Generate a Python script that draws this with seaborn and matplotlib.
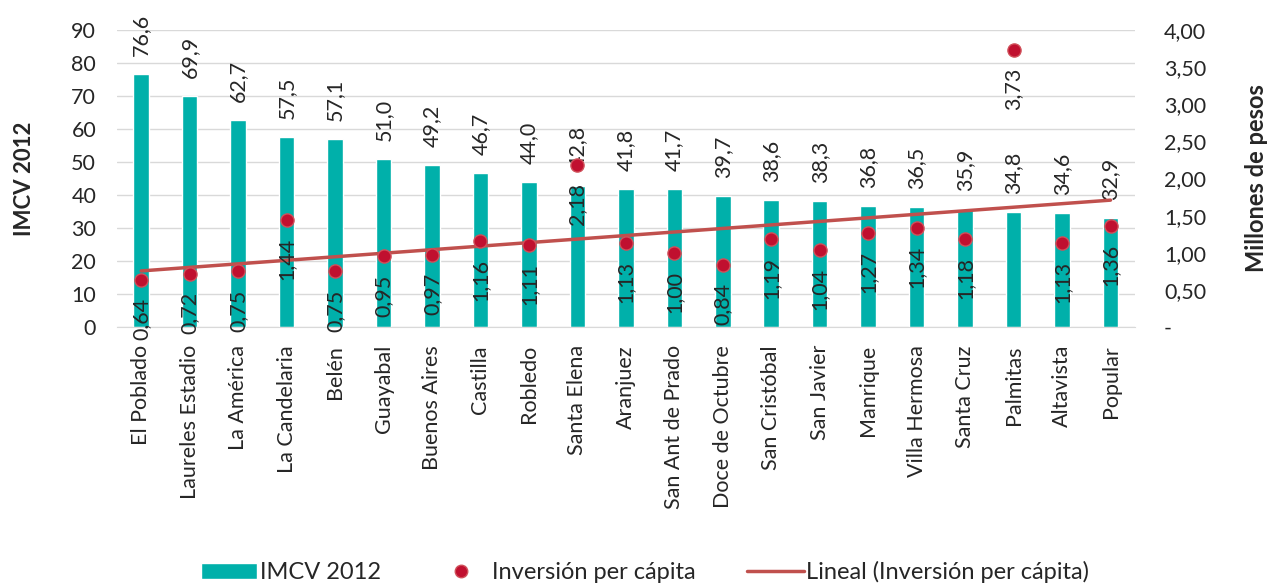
"""
IMCV 2012 vs inversión per cápita por comuna/corregimiento
"""

import numpy as np
import pandas as pd
import matplotlib
matplotlib.use('Agg')
import matplotlib.pyplot as plt
import seaborn as sns
from matplotlib.lines import Line2D
from matplotlib.patches import Patch

# --- Data ---
comunas = ['El Poblado', 'Laureles Estadio', 'La América', 'La Candelaria', 'Belén',
           'Guayabal', 'Buenos Aires', 'Castilla', 'Robledo', 'Santa Elena',
           'Aranjuez', 'San Ant de Prado', 'Doce de Octubre', 'San Cristóbal',
           'San Javier', 'Manrique', 'Villa Hermosa', 'Santa Cruz', 'Palmitas',
           'Altavista', 'Popular']
imcv = [76.6, 69.9, 62.7, 57.5, 57.1, 51.0, 49.2, 46.7, 44.0, 42.8, 41.8,
        41.7, 39.7, 38.6, 38.3, 36.8, 36.5, 35.9, 34.8, 34.6, 32.9]
inversion = [0.64, 0.72, 0.75, 1.44, 0.75, 0.95, 0.97, 1.16, 1.11, 2.18, 1.13,
             1.00, 0.84, 1.19, 1.04, 1.27, 1.34, 1.18, 3.73, 1.13, 1.36]

TEAL = '#00B0AA'
DOT = '#C0102F'
LINE = '#C0504D'
FS = 15.5

df = pd.DataFrame({'comuna': comunas, 'imcv': imcv, 'inv': inversion})
df['pos'] = np.arange(len(df))

# linear trendline (like Excel's "Lineal")
coef = np.polyfit(df['pos'] + 1, df['inv'], 1)
df['trend'] = np.polyval(coef, df['pos'] + 1)

sns.set_style('white')
plt.rcParams['font.family'] = ['Lato', 'DejaVu Sans']

fig = plt.figure(figsize=(12.77, 5.84), dpi=100)
ax = fig.add_axes([0.0916, 0.44, 0.797, 0.5086])

sns.barplot(data=df, x='comuna', y='imcv', color=TEAL, width=0.32,
            saturation=1, ax=ax)
ax.set_ylim(0, 90)
ax.set_xlim(-0.5, len(df) - 0.5)
ax.set_yticks(range(0, 91, 10))
ax.grid(axis='y', color='#D9D9D9', linewidth=1)
ax.set_axisbelow(True)
for s in ['left', 'right', 'top']:
    ax.spines[s].set_visible(False)
ax.spines['bottom'].set_color('#D9D9D9')
ax.tick_params(axis='both', length=0, labelsize=FS)
ax.tick_params(axis='y', pad=15)
ax.tick_params(axis='x', pad=13)
ax.set_xticks(df['pos'])
ax.set_xticklabels(comunas, rotation=90, va='top', ha='center')
ax.set_xlabel('')
ax.set_ylabel('IMCV 2012', fontsize=16, fontweight='bold', labelpad=26)

labels = [f'{v:.1f}'.replace('.', ',') for v in imcv]
ax.bar_label(ax.containers[0], labels=labels, rotation=90, padding=13,
             fontsize=FS)

# right axis: inversion per capita
ax2 = ax.twinx()
sns.lineplot(data=df, x='pos', y='trend', color=LINE, linewidth=2.5, ax=ax2,
             zorder=3)
sns.scatterplot(data=df, x='pos', y='inv', color=DOT, s=90, edgecolor='#D0505A',
                linewidth=1, ax=ax2, zorder=4)
ax2.set_ylim(0, 4)
ax2.set_xlim(-0.5, len(df) - 0.5)
ax2.set_yticks(np.arange(0, 4.01, 0.5))
ax2.set_yticklabels(['-'] + [f'{v:.2f}'.replace('.', ',') for v in np.arange(0.5, 4.01, 0.5)])
ax2.tick_params(axis='y', length=0, labelsize=FS, pad=21)
for s in ['left', 'right', 'top', 'bottom']:
    ax2.spines[s].set_visible(False)
ax2.set_xlabel('')
ax2.set_ylabel('Millones de pesos', fontsize=17, fontweight='bold', labelpad=28)

for x, v in zip(df['pos'], inversion):
    ax2.annotate(f'{v:.2f}'.replace('.', ','), (x, v), xytext=(0, -13),
                 textcoords='offset points', rotation=90, ha='center', va='top',
                 fontsize=FS, annotation_clip=False, zorder=5)

handles = [Patch(facecolor=TEAL, label='IMCV 2012'),
           Line2D([], [], marker='o', color='none', markerfacecolor=DOT,
                  markeredgecolor='#D0505A', markersize=9, label='Inversión per cápita'),
           Line2D([], [], color=LINE, linewidth=2.5, label='Lineal (Inversión per cápita)')]
fig.legend(handles=handles, loc='lower center', bbox_to_anchor=(0.505, -0.035),
           ncol=3, frameon=False, fontsize=17, handlelength=2.4,
           columnspacing=2.2, handletextpad=0.1)

fig.savefig('out.png', dpi=100)
